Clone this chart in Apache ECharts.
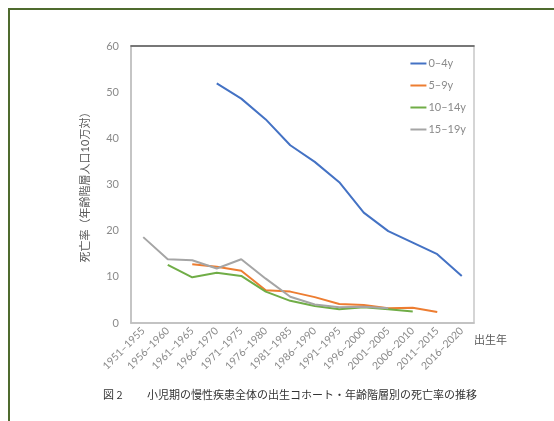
<!DOCTYPE html>
<html><head><meta charset="utf-8">
<script src="https://cdn.jsdelivr.net/npm/echarts@6/dist/echarts.min.js"></script>
<style>html,body{margin:0;padding:0;background:#fff}#c{width:554px;height:421px}</style>
</head><body><div id="c"></div>
<script>
const categories = ['1951–1955','1956–1960','1961–1965','1966–1970','1971–1975','1976–1980','1981–1985','1986–1990','1991–1995','1996–2000','2001–2005','2006–2010','2011–2015','2016–2020'];
const s0_4 = [null,null,null,51.9,48.6,44.1,38.5,34.9,30.5,23.9,19.9,17.4,14.9,10.2];
const s5_9 = [null,null,12.7,12.2,11.3,7.1,6.8,5.6,4.1,3.9,3.2,3.3,2.4,null];
const s10_14 = [null,12.6,9.9,10.9,10.2,6.8,4.8,3.7,3.0,3.4,3.0,2.5,null,null];
const s15_19 = [18.6,13.8,13.6,11.8,13.8,9.6,5.7,4.0,3.4,3.5,3.2,null,null,null];
const seriesNames = ['0–4y','5–9y','10–14y','15–19y'];
const colors = ['#4472C4','#ED7D31','#70AD47','#A5A5A5'];
const yTicks = {min:0,max:60,interval:10};
const font = 'Lato, "Noto Sans CJK JP", sans-serif';
const chart = echarts.init(document.getElementById('c'));
const mk = (name, data, i) => ({name, type:'line', data, symbol:'none', showSymbol:false, connectNulls:false,
  lineStyle:{width:2,color:colors[i]}, itemStyle:{color:colors[i]}});
chart.setOption({
  animation:false,
  grid:{left:131,right:80,top:46,bottom:98,show:true,borderColor:'#c8c8c8',borderWidth:1.5},
  legend:{orient:'vertical',right:88,top:58,itemWidth:16,itemHeight:2,itemGap:11,icon:'rect',
    textStyle:{color:'#8a8a8a',fontSize:11,fontFamily:font,padding:[0,0,0,-3]},data:seriesNames,padding:0},
  xAxis:[{type:'category',data:categories,boundaryGap:true,
    name:'出生年',nameLocation:'end',nameGap:0,nameTextStyle:{color:'#595959',fontSize:11,fontFamily:font,verticalAlign:'top',padding:[12,0,0,0]},
    axisLine:{lineStyle:{color:'#bfbfbf',width:1.5}},axisTick:{show:false},
    axisLabel:{rotate:45,color:'#8a8a8a',fontSize:10.5,fontFamily:font,margin:6,interval:0}},
    {type:'category',data:categories,position:'top',axisLine:{lineStyle:{color:'#595959',width:1.5}},axisTick:{show:false},axisLabel:{show:false}}],
  yAxis:{type:'value',min:yTicks.min,max:yTicks.max,interval:yTicks.interval,
    name:'死亡率（年齢階層人口10万対）',nameLocation:'middle',nameGap:40,nameRotate:90,
    nameTextStyle:{color:'#595959',fontSize:11,fontFamily:font},
    axisLine:{show:true,lineStyle:{color:'#bfbfbf',width:1.5}},axisTick:{show:false},splitLine:{show:false},
    axisLabel:{color:'#8a8a8a',fontSize:11,fontFamily:font,margin:12}},
  graphic:[
    {type:'rect',shape:{x:9,y:9,width:600,height:500},style:{fill:'none',stroke:'#4f6b2e',lineWidth:2},silent:true},
    {type:'text',left:103,top:389,style:{text:'図 2',fill:'#333',font:'11px "Noto Sans CJK JP", sans-serif'}},
    {type:'text',left:147,top:389,style:{text:'小児期の慢性疾患全体の出生コホート・年齢階層別の死亡率の推移',fill:'#333',font:'11px "Noto Sans CJK JP", sans-serif'}}
  ],
  series:[mk(seriesNames[0],s0_4,0),mk(seriesNames[1],s5_9,1),mk(seriesNames[2],s10_14,2),mk(seriesNames[3],s15_19,3)]
});
</script></body></html>
